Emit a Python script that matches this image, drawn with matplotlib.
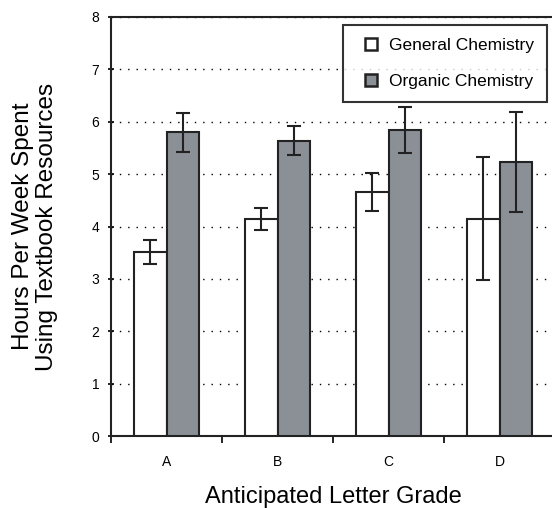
import matplotlib
matplotlib.use('Agg')
import matplotlib.pyplot as plt
from matplotlib.lines import Line2D
import numpy as np

plt.rcParams['font.family'] = ['Liberation Sans', 'DejaVu Sans']

grades = ['A', 'B', 'C', 'D']
general = [3.52, 4.14, 4.66, 4.15]
general_err = [0.23, 0.21, 0.36, 1.18]
organic = [5.80, 5.64, 5.84, 5.23]
organic_err = [0.37, 0.28, 0.44, 0.95]

fig = plt.figure(figsize=(5.52, 5.08), dpi=100)
ax = fig.add_axes([111/552, 1 - 436/508, 444/552, 419/508])

x = np.arange(len(grades))
w = 0.29
ax.bar(x - w/2, general, w, yerr=general_err, color='white', edgecolor='#222222',
       linewidth=1.5, capsize=5, error_kw=dict(elinewidth=1.5, capthick=1.5, ecolor='#222222'),
       zorder=3)
ax.bar(x + w/2, organic, w, yerr=organic_err, color='#8a9096', edgecolor='#222222',
       linewidth=1.5, capsize=5, error_kw=dict(elinewidth=1.5, capthick=1.5, ecolor='#222222'),
       zorder=3)

ax.set_xlim(-0.5, 3.5)
ax.set_ylim(0, 8)
ax.set_yticks(range(0, 9))
ax.set_xticks(x)
ax.set_xticklabels(grades)
ax.set_xticks(np.arange(-0.5, 3.6, 1), minor=True)
ax.tick_params(axis='x', which='major', length=0, pad=14, labelsize=10)
ax.tick_params(axis='x', which='minor', length=5, width=1.2, direction='out')
ax.tick_params(axis='y', length=5, width=1.2, direction='inout', labelsize=10, pad=6)
ax.yaxis.grid(True, linestyle=(0, (1, 5)), color='black', linewidth=1.0, zorder=0)
ax.set_axisbelow(True)
for s in ['left', 'bottom', 'top']:
    ax.spines[s].set_linewidth(1.5)
    ax.spines[s].set_color('#222222')
ax.spines['right'].set_visible(False)

ax.set_ylabel('Hours Per Week Spent\nUsing Textbook Resources', fontsize=17.5,
              labelpad=24, linespacing=1.1)
ax.set_xlabel('Anticipated Letter Grade', fontsize=17, labelpad=12)

handles = [
    Line2D([], [], linestyle='none', marker='s', markersize=9, markeredgewidth=1.8,
           markerfacecolor='white', markeredgecolor='#222222'),
    Line2D([], [], linestyle='none', marker='s', markersize=9, markeredgewidth=1.8,
           markerfacecolor='#8a9096', markeredgecolor='#222222'),
]
leg = ax.legend(handles, ['General Chemistry', 'Organic Chemistry'], loc='upper right',
                fontsize=12.5, frameon=True, fancybox=False,
                handlelength=1.7, handletextpad=0.2,
                borderpad=0.75, labelspacing=1.2, borderaxespad=0)
leg.get_frame().set_edgecolor('black')
leg.get_frame().set_linewidth(1.5)
leg.set_bbox_to_anchor((547/552, 1 - 25/508), transform=fig.transFigure)

fig.savefig('out.png', dpi=100)
